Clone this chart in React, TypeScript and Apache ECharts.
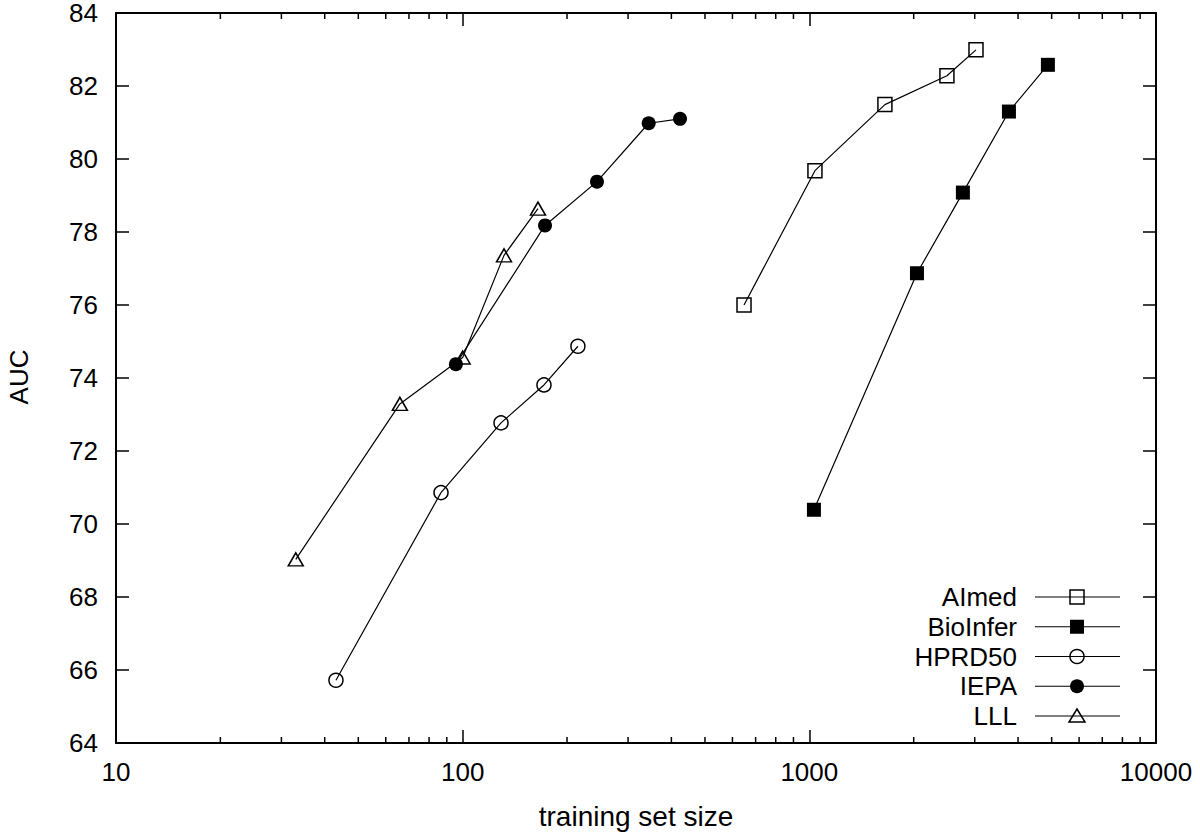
import React, { useEffect, useRef } from 'react';
import * as echarts from 'echarts';

// Training set size (x) and AUC (y) per corpus
const aimedX = [648, 1038, 1652, 2494, 3025];
const aimedY = [76.0, 79.68, 81.49, 82.28, 82.99];
const bioinferX = [1031, 2044, 2773, 3765, 4877];
const bioinferY = [70.39, 76.87, 79.08, 81.3, 82.58];
const hprdX = [43.1, 86.6, 129, 171.6, 215];
const hprdY = [65.72, 70.86, 72.77, 73.81, 74.87];
const iepaX = [95.6, 172.8, 244, 344, 423.6];
const iepaY = [74.38, 78.18, 79.38, 80.98, 81.1];
const lllX = [33.0, 65.9, 100, 131.6, 164.9];
const lllY = [69.03, 73.29, 74.56, 77.36, 78.64];

const seriesNames = ['AImed', 'BioInfer', 'HPRD50', 'IEPA', 'LLL'];
const minorTickValues = [
  20, 30, 40, 50, 60, 70, 80, 90,
  200, 300, 400, 500, 600, 700, 800, 900,
  2000, 3000, 4000, 5000, 6000, 7000, 8000, 9000,
];
const Y_MIN = 64;
const Y_MAX = 84;

function zip(xs: number[], ys: number[]) {
  return xs.map((x, i) => [x, ys[i]]);
}

function legendMarker(i: number, cx: number, cy: number): any {
  const open = { fill: 'none', stroke: '#000', lineWidth: 1.5 };
  const filled = { fill: '#000', stroke: '#000', lineWidth: 0 };
  if (i === 0) return { type: 'rect', shape: { x: cx - 7, y: cy - 7, width: 14, height: 14 }, style: open };
  if (i === 1) return { type: 'rect', shape: { x: cx - 7, y: cy - 7, width: 14, height: 14 }, style: filled };
  if (i === 2) return { type: 'circle', shape: { cx, cy, r: 7 }, style: open };
  if (i === 3) return { type: 'circle', shape: { cx, cy, r: 7 }, style: filled };
  return { type: 'polygon', shape: { points: [[cx, cy - 7], [cx - 8, cy + 6], [cx + 8, cy + 6]] }, style: open };
}

export default function App() {
  const ref = useRef<HTMLDivElement>(null);
  useEffect(() => {
    if (!ref.current) return;
    const chart = echarts.init(ref.current, undefined, { renderer: 'svg' });
    const mkAxisLine = () => ({ show: true, onZero: false, lineStyle: { color: '#000', width: 2 } });
    const mkTick = () => ({ show: true, inside: true, length: 13, lineStyle: { color: '#000', width: 1.5 } });
    const mkLine = (name: string, xs: number[], ys: number[], symbol: string, size: any, filled: boolean) => ({
      name,
      type: 'line',
      data: zip(xs, ys),
      symbol,
      symbolSize: size,
      lineStyle: { color: '#000', width: 1.2 },
      itemStyle: filled
        ? { color: '#000', borderColor: '#000', borderWidth: 0 }
        : { color: 'transparent', borderColor: '#000', borderWidth: 1.5 },
    });
    const mkMinor = (atY: number, dir: number) => ({
      type: 'custom',
      silent: true,
      clip: false,
      z: 5,
      data: minorTickValues.map((v) => [v, atY]),
      encode: { x: 0, y: 1 },
      renderItem: (params: any, api: any) => {
        const p = api.coord([api.value(0), atY]);
        return {
          type: 'line',
          shape: { x1: p[0], y1: p[1], x2: p[0], y2: p[1] + dir * 6 },
          style: { stroke: '#000', lineWidth: 1.5 },
        };
      },
    });

    const textFont = '26px sans-serif';
    const legendGraphics: any[] = [];
    seriesNames.forEach((name, i) => {
      const cy = 597 + i * 29.75;
      legendGraphics.push({
        type: 'text',
        x: 1017,
        y: cy,
        style: { text: name, fill: '#000', font: textFont, align: 'right', textAlign: 'right', verticalAlign: 'middle', textVerticalAlign: 'middle' },
      });
      legendGraphics.push({
        type: 'line',
        shape: { x1: 1035, y1: cy, x2: 1120, y2: cy },
        style: { stroke: '#000', lineWidth: 1.2 },
      });
      legendGraphics.push(legendMarker(i, 1077, cy));
    });

    chart.setOption({
      animation: false,
      grid: { left: 116, right: 44, top: 11, bottom: 90 },
      graphic: [
        {
          type: 'text',
          x: 636,
          y: 816,
          style: { text: 'training set size', fill: '#000', font: '28px sans-serif', align: 'center', textAlign: 'center', verticalAlign: 'middle', textVerticalAlign: 'middle' },
        },
        {
          type: 'text',
          x: 19,
          y: 377,
          rotation: Math.PI / 2,
          style: { text: 'AUC', fill: '#000', font: textFont, align: 'center', textAlign: 'center', verticalAlign: 'middle', textVerticalAlign: 'middle' },
        },
        ...legendGraphics,
      ],
      xAxis: [
        {
          type: 'log',
          min: 10,
          max: 10000,
          position: 'bottom',
          axisLine: mkAxisLine(),
          axisTick: mkTick(),
          axisLabel: { fontSize: 26, color: '#000', margin: 16, formatter: (v: number) => String(Math.round(v)) },
          splitLine: { show: false },
        },
        {
          type: 'log',
          min: 10,
          max: 10000,
          position: 'top',
          axisLine: mkAxisLine(),
          axisTick: mkTick(),
          axisLabel: { show: false },
          splitLine: { show: false },
        },
      ],
      yAxis: [
        {
          type: 'value',
          min: Y_MIN,
          max: Y_MAX,
          interval: 2,
          position: 'left',
          axisLine: mkAxisLine(),
          axisTick: mkTick(),
          axisLabel: { fontSize: 26, color: '#000', margin: 18 },
          splitLine: { show: false },
        },
        {
          type: 'value',
          min: Y_MIN,
          max: Y_MAX,
          interval: 2,
          position: 'right',
          axisLine: mkAxisLine(),
          axisTick: mkTick(),
          axisLabel: { show: false },
          splitLine: { show: false },
        },
      ],
      series: [
        mkLine('AImed', aimedX, aimedY, 'rect', 14, false),
        mkLine('BioInfer', bioinferX, bioinferY, 'rect', 14, true),
        mkLine('HPRD50', hprdX, hprdY, 'circle', 14, false),
        mkLine('IEPA', iepaX, iepaY, 'circle', 14, true),
        mkLine('LLL', lllX, lllY, 'triangle', [15, 13], false),
        mkMinor(Y_MIN, -1),
        mkMinor(Y_MAX, 1),
      ],
    });
    return () => chart.dispose();
  }, []);
  return (
    <div
      ref={ref}
      style={{ position: 'absolute', left: 0, top: 0, width: 1200, height: 833 }}
    />
  );
}
